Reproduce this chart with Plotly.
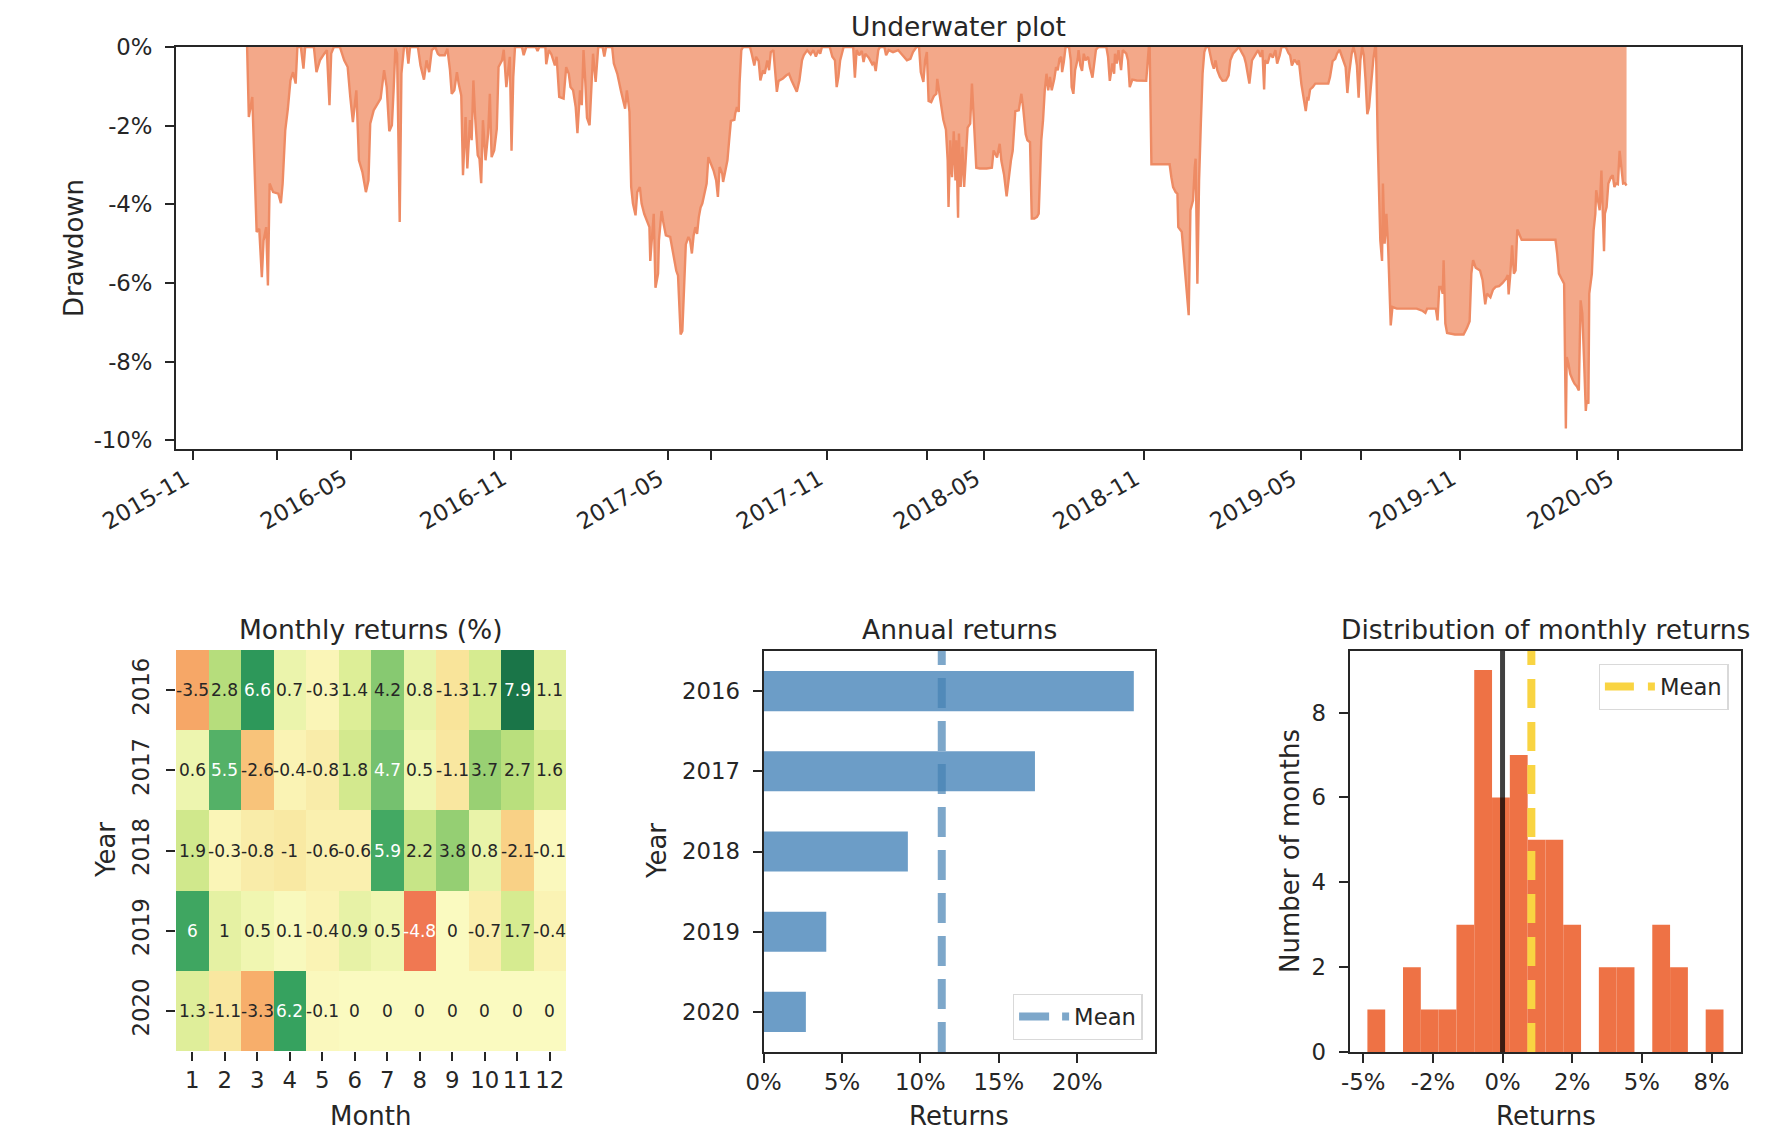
import plotly.graph_objects as go

W, H = 1784, 1148
FONT = "DejaVu Sans"
INK = "#262626"

# ---------------- data ----------------
# Underwater (drawdown, %): (date, drawdown %)
underwater_points = [
    ("2016-01-02", 0.00), ("2016-01-04", -1.78), ("2016-01-08", -1.27), ("2016-01-11", -3.05), ("2016-01-13", -4.70),
    ("2016-01-16", -4.62), ("2016-01-19", -5.85), ("2016-01-21", -4.92), ("2016-01-24", -4.58), ("2016-01-26", -6.06),
    ("2016-01-28", -3.47), ("2016-02-01", -3.69), ("2016-02-07", -3.73), ("2016-02-10", -3.97), ("2016-02-12", -3.47),
    ("2016-02-15", -2.12), ("2016-02-18", -1.57), ("2016-02-21", -0.85), ("2016-02-24", -0.64), ("2016-02-27", -0.93),
    ("2016-02-29", 0.00), ("2016-03-04", 0.00), ("2016-03-07", -0.55), ("2016-03-09", 0.00), ("2016-03-19", 0.00),
    ("2016-03-22", -0.64), ("2016-03-26", -0.34), ("2016-03-31", -0.17), ("2016-04-03", -0.08), ("2016-04-06", -1.48),
    ("2016-04-08", -0.17), ("2016-04-11", 0.00), ("2016-04-18", 0.00), ("2016-04-23", -0.34), ("2016-04-27", -0.51),
    ("2016-04-30", -1.27), ("2016-05-03", -1.91), ("2016-05-07", -1.10), ("2016-05-10", -2.88), ("2016-05-14", -3.18),
    ("2016-05-18", -3.69), ("2016-05-21", -3.39), ("2016-05-23", -1.95), ("2016-05-27", -1.61), ("2016-05-31", -1.44),
    ("2016-06-04", -1.31), ("2016-06-08", -0.59), ("2016-06-11", -1.02), ("2016-06-14", -2.14), ("2016-06-17", -1.99),
    ("2016-06-19", -1.10), ("2016-06-21", -0.04), ("2016-06-23", -0.17), ("2016-06-26", -4.45), ("2016-06-28", -0.68),
    ("2016-07-01", 0.00), ("2016-07-04", 0.00), ("2016-07-06", -0.42), ("2016-07-08", 0.00), ("2016-07-17", 0.00),
    ("2016-07-20", -0.47), ("2016-07-24", -0.83), ("2016-07-27", -0.34), ("2016-07-30", -0.64), ("2016-08-02", -0.08),
    ("2016-08-06", 0.00), ("2016-08-09", -0.17), ("2016-08-11", -0.21), ("2016-08-17", -0.21), ("2016-08-20", -0.04),
    ("2016-08-23", -0.59), ("2016-08-25", -1.19), ("2016-08-28", -1.10), ("2016-08-31", -0.64), ("2016-09-02", -0.93),
    ("2016-09-05", -1.23), ("2016-09-07", -3.26), ("2016-09-10", -1.78), ("2016-09-12", -3.09), ("2016-09-15", -1.86),
    ("2016-09-17", -2.37), ("2016-09-19", -0.85), ("2016-09-21", -1.78), ("2016-09-24", -2.75), ("2016-09-26", -2.84),
    ("2016-09-28", -3.46), ("2016-09-30", -1.86), ("2016-10-03", -2.88), ("2016-10-06", -2.20), ("2016-10-08", -1.19),
    ("2016-10-10", -2.80), ("2016-10-13", -2.63), ("2016-10-16", -2.08), ("2016-10-18", -0.51), ("2016-10-22", -0.34),
    ("2016-10-24", -0.07), ("2016-10-27", -1.02), ("2016-10-29", -0.68), ("2016-10-31", -0.25), ("2016-11-02", -2.64),
    ("2016-11-04", -0.76), ("2016-11-06", 0.00), ("2016-11-14", 0.00), ("2016-11-16", -0.21), ("2016-11-19", 0.00),
    ("2016-11-30", 0.00), ("2016-12-02", -0.10), ("2016-12-04", 0.00), ("2016-12-11", 0.00), ("2016-12-12", -0.44),
    ("2016-12-15", -0.08), ("2016-12-18", -0.19), ("2016-12-22", -0.47), ("2016-12-24", -0.25), ("2016-12-27", -1.27),
    ("2017-01-01", -1.31), ("2017-01-04", -0.51), ("2017-01-07", -0.68), ("2017-01-09", -1.02), ("2017-01-12", -1.10),
    ("2017-01-15", -1.53), ("2017-01-17", -2.19), ("2017-01-20", -1.10), ("2017-01-22", -1.48), ("2017-01-24", -0.08),
    ("2017-01-26", -0.85), ("2017-01-28", -1.80), ("2017-01-31", -1.99), ("2017-02-02", -0.93), ("2017-02-04", -0.17),
    ("2017-02-07", -0.89), ("2017-02-09", -0.17), ("2017-02-10", 0.00), ("2017-02-15", 0.00), ("2017-02-17", -0.24),
    ("2017-02-19", 0.00), ("2017-02-26", 0.00), ("2017-02-28", -0.42), ("2017-03-04", -0.68), ("2017-03-08", -1.10),
    ("2017-03-11", -1.40), ("2017-03-13", -1.57), ("2017-03-15", -1.10), ("2017-03-18", -1.65), ("2017-03-20", -3.56),
    ("2017-03-22", -3.98), ("2017-03-25", -4.28), ("2017-03-27", -3.69), ("2017-03-30", -3.56), ("2017-04-01", -3.98),
    ("2017-04-04", -4.24), ("2017-04-07", -4.41), ("2017-04-10", -4.58), ("2017-04-11", -5.44), ("2017-04-14", -4.41),
    ("2017-04-15", -4.24), ("2017-04-17", -6.12), ("2017-04-20", -5.76), ("2017-04-21", -4.92), ("2017-04-24", -4.17),
    ("2017-04-26", -4.45), ("2017-04-29", -4.79), ("2017-05-04", -4.83), ("2017-05-08", -5.38), ("2017-05-11", -5.69),
    ("2017-05-13", -5.81), ("2017-05-16", -7.31), ("2017-05-18", -7.22), ("2017-05-20", -6.27), ("2017-05-22", -5.02),
    ("2017-05-25", -4.83), ("2017-05-27", -4.92), ("2017-05-29", -5.25), ("2017-05-31", -4.79), ("2017-06-02", -4.58),
    ("2017-06-04", -4.75), ("2017-06-06", -4.32), ("2017-06-08", -4.08), ("2017-06-10", -3.98), ("2017-06-13", -3.66),
    ("2017-06-15", -3.47), ("2017-06-17", -2.80), ("2017-06-20", -2.98), ("2017-06-23", -3.14), ("2017-06-26", -3.39),
    ("2017-06-28", -3.81), ("2017-06-30", -3.05), ("2017-07-03", -3.22), ("2017-07-04", -3.43), ("2017-07-07", -3.05),
    ("2017-07-09", -2.88), ("2017-07-11", -2.37), ("2017-07-13", -1.88), ("2017-07-17", -1.85), ("2017-07-18", -1.69),
    ("2017-07-20", -1.53), ("2017-07-22", -1.65), ("2017-07-23", -0.93), ("2017-07-25", -0.08), ("2017-07-27", 0.00),
    ("2017-08-04", 0.00), ("2017-08-06", -0.17), ("2017-08-09", -0.47), ("2017-08-11", -0.25), ("2017-08-14", -0.36),
    ("2017-08-16", -0.85), ("2017-08-19", -0.59), ("2017-08-21", -0.68), ("2017-08-24", -0.34), ("2017-08-26", -0.59),
    ("2017-08-28", -0.13), ("2017-08-31", -0.08), ("2017-09-02", -0.68), ("2017-09-04", -1.14), ("2017-09-06", -0.86),
    ("2017-09-11", -0.80), ("2017-09-15", -0.72), ("2017-09-18", -0.68), ("2017-09-21", -0.85), ("2017-09-25", -1.02),
    ("2017-09-27", -1.14), ("2017-09-30", -0.85), ("2017-10-03", -0.34), ("2017-10-05", -0.21), ("2017-10-09", -0.08),
    ("2017-10-13", -0.19), ("2017-10-16", -0.08), ("2017-10-19", -0.24), ("2017-10-22", -0.08), ("2017-10-24", -0.17),
    ("2017-10-26", 0.00), ("2017-11-04", 0.00), ("2017-11-07", -0.25), ("2017-11-10", -0.34), ("2017-11-12", -1.02),
    ("2017-11-14", -0.76), ("2017-11-16", -0.34), ("2017-11-18", -0.17), ("2017-11-20", 0.00), ("2017-12-01", 0.00),
    ("2017-12-03", -0.78), ("2017-12-05", -0.08), ("2017-12-08", -0.21), ("2017-12-11", -0.10), ("2017-12-13", -0.38),
    ("2017-12-15", -0.17), ("2017-12-19", -0.27), ("2017-12-23", -0.44), ("2017-12-25", -0.38), ("2017-12-27", -0.61),
    ("2017-12-30", -0.08), ("2018-01-01", 0.00), ("2018-01-06", 0.00), ("2018-01-08", -0.21), ("2018-01-11", -0.08),
    ("2018-01-16", -0.13), ("2018-01-22", -0.08), ("2018-01-27", -0.21), ("2018-02-01", -0.34), ("2018-02-05", -0.30),
    ("2018-02-08", -0.13), ("2018-02-12", 0.00), ("2018-02-15", 0.00), ("2018-02-17", -0.64), ("2018-02-20", -0.89),
    ("2018-02-22", -0.34), ("2018-02-24", -0.13), ("2018-02-26", -1.37), ("2018-03-01", -1.40), ("2018-03-04", -1.25),
    ("2018-03-07", -1.19), ("2018-03-08", -0.81), ("2018-03-11", -1.29), ("2018-03-13", -1.61), ("2018-03-15", -1.85),
    ("2018-03-18", -2.10), ("2018-03-20", -2.88), ("2018-03-21", -4.07), ("2018-03-23", -2.37), ("2018-03-25", -3.31),
    ("2018-03-27", -2.14), ("2018-03-29", -3.39), ("2018-03-30", -2.37), ("2018-04-01", -4.34), ("2018-04-02", -2.20),
    ("2018-04-04", -3.56), ("2018-04-06", -2.54), ("2018-04-08", -3.56), ("2018-04-10", -2.80), ("2018-04-12", -2.05),
    ("2018-04-15", -1.95), ("2018-04-17", -0.93), ("2018-04-20", -2.20), ("2018-04-22", -3.07), ("2018-04-26", -3.09),
    ("2018-05-04", -3.09), ("2018-05-10", -3.07), ("2018-05-12", -2.63), ("2018-05-16", -2.81), ("2018-05-19", -2.46),
    ("2018-05-21", -2.90), ("2018-05-24", -3.24), ("2018-05-27", -3.80), ("2018-05-29", -3.39), ("2018-06-01", -2.88),
    ("2018-06-03", -2.64), ("2018-06-06", -1.63), ("2018-06-10", -1.61), ("2018-06-11", -1.48), ("2018-06-13", -1.19),
    ("2018-06-15", -1.53), ("2018-06-18", -2.22), ("2018-06-20", -2.37), ("2018-06-23", -2.42), ("2018-06-25", -4.36),
    ("2018-06-28", -4.36), ("2018-07-01", -4.32), ("2018-07-03", -4.24), ("2018-07-06", -2.37), ("2018-07-08", -1.86),
    ("2018-07-10", -1.10), ("2018-07-12", -0.68), ("2018-07-14", -1.10), ("2018-07-16", -0.76), ("2018-07-18", -1.10),
    ("2018-07-21", -0.81), ("2018-07-23", -0.51), ("2018-07-25", -0.59), ("2018-07-27", -0.30), ("2018-07-29", -0.25),
    ("2018-07-30", -0.64), ("2018-08-01", -0.38), ("2018-08-03", 0.00), ("2018-08-07", 0.00), ("2018-08-09", -0.34),
    ("2018-08-10", -1.02), ("2018-08-12", -1.19), ("2018-08-14", -0.59), ("2018-08-17", -0.30), ("2018-08-18", -0.08),
    ("2018-08-20", -0.47), ("2018-08-22", -0.61), ("2018-08-24", -0.17), ("2018-08-26", -0.34), ("2018-08-29", -0.25),
    ("2018-08-31", -0.51), ("2018-09-03", -0.78), ("2018-09-05", -0.34), ("2018-09-07", -0.07), ("2018-09-10", 0.00),
    ("2018-09-19", 0.00), ("2018-09-21", -0.25), ("2018-09-23", -0.86), ("2018-09-26", -0.42), ("2018-09-28", -0.68),
    ("2018-09-29", -0.17), ("2018-10-01", -0.42), ("2018-10-03", -0.08), ("2018-10-06", -0.59), ("2018-10-08", -0.08),
    ("2018-10-12", -0.17), ("2018-10-14", -0.34), ("2018-10-16", -1.02), ("2018-10-19", -0.83), ("2018-10-24", -0.85),
    ("2018-11-04", -0.86), ("2018-11-05", -0.51), ("2018-11-07", 0.00), ("2018-11-08", 0.00), ("2018-11-10", -2.98),
    ("2018-11-20", -2.98), ("2018-12-01", -2.98), ("2018-12-03", -3.31), ("2018-12-05", -3.56), ("2018-12-08", -3.69),
    ("2018-12-10", -3.73), ("2018-12-11", -4.58), ("2018-12-15", -4.70), ("2018-12-19", -5.76), ("2018-12-23", -6.82),
    ("2018-12-25", -4.15), ("2018-12-28", -3.90), ("2018-12-30", -3.05), ("2018-12-31", -2.84), ("2019-01-02", -6.02),
    ("2019-01-04", -3.39), ("2019-01-06", -1.95), ("2019-01-08", -0.68), ("2019-01-10", -0.13), ("2019-01-12", 0.00),
    ("2019-01-15", 0.00), ("2019-01-17", -0.25), ("2019-01-19", -0.42), ("2019-01-21", -0.55), ("2019-01-23", -0.34),
    ("2019-01-25", -0.59), ("2019-01-28", -0.76), ("2019-01-31", -0.86), ("2019-02-04", -0.85), ("2019-02-07", -0.72),
    ("2019-02-09", -0.34), ("2019-02-12", -0.17), ("2019-02-16", -0.08), ("2019-02-19", 0.00), ("2019-02-22", -0.13),
    ("2019-02-25", -0.25), ("2019-02-27", -0.42), ("2019-03-03", -0.93), ("2019-03-06", -0.34), ("2019-03-10", -0.21),
    ("2019-03-13", -0.08), ("2019-03-16", -0.25), ("2019-03-18", -0.08), ("2019-03-20", -1.08), ("2019-03-21", -0.34),
    ("2019-03-24", -0.42), ("2019-03-27", -0.17), ("2019-03-30", -0.27), ("2019-04-02", -0.08), ("2019-04-04", -0.42),
    ("2019-04-07", -0.21), ("2019-04-09", 0.00), ("2019-04-14", 0.00), ("2019-04-17", -0.15), ("2019-04-19", -0.21),
    ("2019-04-21", -0.47), ("2019-04-24", -0.32), ("2019-04-27", -0.42), ("2019-04-29", -0.34), ("2019-05-02", -0.95),
    ("2019-05-04", -1.20), ("2019-05-07", -1.63), ("2019-05-09", -1.27), ("2019-05-10", -1.36), ("2019-05-12", -1.08),
    ("2019-05-15", -1.02), ("2019-05-18", -0.93), ("2019-06-02", -0.93), ("2019-06-04", -0.76), ("2019-06-07", -0.36),
    ("2019-06-10", -0.30), ("2019-06-12", -0.17), ("2019-06-15", -0.07), ("2019-06-17", -0.21), ("2019-06-20", -0.42),
    ("2019-06-22", -0.51), ("2019-06-24", -1.17), ("2019-06-26", -0.68), ("2019-06-29", -0.17), ("2019-07-01", 0.00),
    ("2019-07-03", -0.17), ("2019-07-05", -0.47), ("2019-07-07", -1.29), ("2019-07-09", -0.34), ("2019-07-11", 0.00),
    ("2019-07-13", -0.21), ("2019-07-15", -0.85), ("2019-07-17", -1.71), ("2019-07-19", -1.53), ("2019-07-22", -0.68),
    ("2019-07-24", -0.30), ("2019-07-26", 0.00), ("2019-07-27", 0.00), ("2019-07-29", -2.37), ("2019-07-30", -3.47),
    ("2019-08-01", -4.92), ("2019-08-03", -5.44), ("2019-08-04", -3.47), ("2019-08-06", -5.00), ("2019-08-08", -4.24),
    ("2019-08-10", -5.08), ("2019-08-12", -6.61), ("2019-08-13", -7.08), ("2019-08-15", -6.61), ("2019-08-20", -6.65),
    ("2019-08-31", -6.65), ("2019-09-12", -6.65), ("2019-09-19", -6.71), ("2019-09-22", -6.76), ("2019-09-24", -6.65),
    ("2019-10-04", -6.65), ("2019-10-06", -6.95), ("2019-10-08", -6.10), ("2019-10-10", -6.10), ("2019-10-12", -6.27),
    ("2019-10-13", -5.42), ("2019-10-15", -7.03), ("2019-10-17", -7.27), ("2019-10-26", -7.31), ("2019-11-05", -7.31),
    ("2019-11-09", -7.14), ("2019-11-12", -6.97), ("2019-11-14", -5.76), ("2019-11-16", -5.42), ("2019-11-19", -5.61),
    ("2019-11-24", -5.68), ("2019-11-27", -5.93), ("2019-11-30", -6.54), ("2019-12-02", -6.27), ("2019-12-06", -6.36),
    ("2019-12-09", -6.17), ("2019-12-12", -6.10), ("2019-12-16", -6.08), ("2019-12-20", -6.00), ("2019-12-24", -5.89),
    ("2019-12-26", -5.80), ("2019-12-27", -6.29), ("2019-12-29", -5.76), ("2019-12-31", -5.04), ("2020-01-02", -5.76),
    ("2020-01-04", -5.68), ("2020-01-06", -4.64), ("2020-01-09", -4.83), ("2020-01-11", -4.90), ("2020-02-01", -4.90),
    ("2020-02-19", -4.90), ("2020-02-21", -5.25), ("2020-02-23", -5.76), ("2020-02-26", -5.89), ("2020-02-29", -6.02),
    ("2020-03-02", -9.70), ("2020-03-03", -7.88), ("2020-03-05", -8.05), ("2020-03-07", -8.31), ("2020-03-10", -8.47),
    ("2020-03-12", -8.56), ("2020-03-15", -8.64), ("2020-03-17", -8.73), ("2020-03-19", -6.44), ("2020-03-21", -6.78),
    ("2020-03-23", -7.97), ("2020-03-25", -9.25), ("2020-03-26", -8.98), ("2020-03-28", -9.07), ("2020-03-29", -6.27),
    ("2020-04-01", -5.76), ("2020-04-03", -4.66), ("2020-04-05", -4.24), ("2020-04-06", -3.64), ("2020-04-08", -3.94),
    ("2020-04-10", -4.15), ("2020-04-12", -3.14), ("2020-04-13", -3.90), ("2020-04-15", -5.19), ("2020-04-16", -4.24),
    ("2020-04-18", -4.07), ("2020-04-20", -3.47), ("2020-04-23", -3.31), ("2020-04-25", -3.26), ("2020-04-27", -3.56),
    ("2020-04-29", -3.47), ("2020-05-01", -3.49), ("2020-05-03", -2.64), ("2020-05-05", -3.05), ("2020-05-07", -3.47),
    ("2020-05-09", -3.46), ("2020-05-11", -3.52),
]
uw_dates = [d for d, _ in underwater_points]
uw_drawdown_pct = [v for _, v in underwater_points]

uw_tick_labels = ["2015-11", "2016-05", "2016-11", "2017-05", "2017-11",
                  "2018-05", "2018-11", "2019-05", "2019-11", "2020-05"]
uw_minor_tick_dates = ["2016-02-05", "2016-10-13", "2017-06-20", "2018-02-24", "2019-07-10", "2020-03-15"]
uw_y_ticks = [0, -2, -4, -6, -8, -10]

# Monthly returns (%) table
years = [2016, 2017, 2018, 2019, 2020]
months = list(range(1, 13))
monthly_2016 = [-3.5, 2.8, 6.6, 0.7, -0.3, 1.4, 4.2, 0.8, -1.3, 1.7, 7.9, 1.1]
monthly_2017 = [0.6, 5.5, -2.6, -0.4, -0.8, 1.8, 4.7, 0.5, -1.1, 3.7, 2.7, 1.6]
monthly_2018 = [1.9, -0.3, -0.8, -1.0, -0.6, -0.6, 5.9, 2.2, 3.8, 0.8, -2.1, -0.1]
monthly_2019 = [6.0, 1.0, 0.5, 0.1, -0.4, 0.9, 0.5, -4.8, 0.0, -0.7, 1.7, -0.4]
monthly_2020 = [1.3, -1.1, -3.3, 6.2, -0.1]  # Jan-May (rest of year shown as 0)

# Annual returns (%)
annual_returns = [23.6, 17.3, 9.2, 4.0, 2.7]
annual_x_ticks = [0, 5, 10, 15, 20]

# Distribution of monthly returns: 20 bins between the extremes of the monthly returns
hist_counts = [1, 0, 2, 1, 1, 3, 9, 6, 7, 5, 5, 3, 0, 2, 2, 0, 3, 2, 0, 1]
hist_min, hist_max = -4.85, 7.93
hist_x_ticks = [-5, -2.5, 0, 2.5, 5, 7.5]
hist_y_ticks = [0, 2, 4, 6, 8]

# ---------------- helpers ----------------
def fx(px):
    return px / W

def fy(py):
    return 1 - py / H

RDYLGN = [(165, 0, 38), (215, 48, 39), (244, 109, 67), (253, 174, 97), (254, 224, 139),
          (255, 255, 191), (217, 239, 139), (166, 217, 106), (102, 189, 99), (26, 152, 80), (0, 104, 55)]
# slightly softened rendering of the RdYlGn map (as it appears in the picture)
SOFT = 0.12
SOFT_TO = (215, 215, 200)
soft_cols = [tuple(round(c[k] * (1 - SOFT) + SOFT_TO[k] * SOFT) for k in range(3)) for c in RDYLGN]
colorscale = [[i / 10, "rgb(%d,%d,%d)" % c] for i, c in enumerate(soft_cols)]

def cmap(t):
    t = min(max(t, 0.0), 1.0) * 10
    i = min(int(t), 9)
    f = t - i
    a, b = RDYLGN[i], RDYLGN[i + 1]
    return [(a[k] + (b[k] - a[k]) * f) / 255 for k in range(3)]

def luminance(rgb):
    lin = [c / 12.92 if c <= 0.03928 else ((c + 0.055) / 1.055) ** 2.4 for c in rgb]
    return 0.2126 * lin[0] + 0.7152 * lin[1] + 0.0722 * lin[2]

tick_font = dict(family=FONT, size=22.8, color=INK)
axis_box = dict(showline=True, linecolor=INK, linewidth=1.8, mirror=True, ticks="outside",
                ticklen=9, tickwidth=1.8, tickcolor=INK, tickfont=tick_font,
                showgrid=False, zeroline=False, automargin=False)
YSTAND = 8

fig = go.Figure()

# ---------------- underwater ----------------
fig.add_trace(go.Scatter(
    x=uw_dates, y=uw_drawdown_pct, mode="lines", fill="tozeroy",
    fillcolor="rgb(243,168,137)", line=dict(color="rgb(238,139,100)", width=2.4),
    xaxis="x", yaxis="y", showlegend=False, hoverinfo="skip"))

# ---------------- heatmap ----------------
table = [monthly_2016, monthly_2017, monthly_2018, monthly_2019,
         monthly_2020 + [0.0] * (12 - len(monthly_2020))]
vrange = max(max(max(r) for r in table), -min(min(r) for r in table))
fig.add_trace(go.Heatmap(
    z=table, x=months, y=years, colorscale=colorscale, zmin=-vrange, zmax=vrange,
    showscale=False, xaxis="x2", yaxis="y2", hoverinfo="skip"))

annotations = []
for yi, yr in enumerate(years):
    for mi, m in enumerate(months):
        v = table[yi][mi]
        col = cmap((v + vrange) / (2 * vrange))
        tcol = "white" if luminance(col) <= 0.41 else INK
        annotations.append(dict(x=m, y=yr, xref="x2", yref="y2", text=format(v, ".2g"),
                                showarrow=False, font=dict(family=FONT, size=17, color=tcol)))

# ---------------- annual returns ----------------
fig.add_trace(go.Bar(
    x=annual_returns, y=years, orientation="h", width=0.5,
    marker=dict(color="rgb(108,157,199)", line_width=0),
    xaxis="x3", yaxis="y3", showlegend=False, hoverinfo="skip"))
ann_mean = sum(annual_returns) / len(annual_returns)
ann_line = dict(color="rgba(70,130,180,0.7)", width=8, dash="30px,13px")
fig.add_shape(type="line", x0=ann_mean, x1=ann_mean, y0=0, y1=1, xref="x3", yref="y3 domain",
              line=ann_line)
fig.add_trace(go.Scatter(x=[None], y=[None], mode="lines", line=ann_line, name="Mean",
                         xaxis="x3", yaxis="y3", legend="legend", hoverinfo="skip"))

# ---------------- distribution ----------------
nb = len(hist_counts)
bw = (hist_max - hist_min) / nb
centers = [hist_min + bw * (i + 0.5) for i in range(nb)]
fig.add_trace(go.Bar(
    x=centers, y=hist_counts, width=bw, marker=dict(color="rgb(238,114,69)", line_width=0),
    xaxis="x4", yaxis="y4", showlegend=False, hoverinfo="skip"))
all_monthly = monthly_2016 + monthly_2017 + monthly_2018 + monthly_2019 + monthly_2020
m_mean = sum(all_monthly) / len(all_monthly)
fig.add_shape(type="line", x0=0, x1=0, y0=0, y1=1, xref="x4", yref="y4 domain",
              line=dict(color="rgba(0,0,0,0.75)", width=5))
gold_line = dict(color="rgb(249,212,66)", width=8, dash="29px,14px")
fig.add_shape(type="line", x0=m_mean, x1=m_mean, y0=0, y1=1, xref="x4", yref="y4 domain",
              line=gold_line)
fig.add_trace(go.Scatter(x=[None], y=[None], mode="lines", line=gold_line, name="Mean",
                         xaxis="x4", yaxis="y4", legend="legend2", hoverinfo="skip"))

# ---------------- titles / labels ----------------
def label(text, x, y, size=26, angle=0):
    annotations.append(dict(text=text, x=fx(x), y=fy(y), xref="paper", yref="paper",
                            showarrow=False, textangle=angle, xanchor="center", yanchor="middle",
                            font=dict(family=FONT, size=size, color=INK)))

label("Underwater plot", 958.5, 26, 26.5)
label("Monthly returns (%)", 371, 629, 26.5)
label("Annual returns", 959, 629, 26.5)
label("Distribution of monthly returns", 1545.5, 629, 26.5)
label("Drawdown", 74, 248, angle=-90)
label("Year", 106, 850, angle=-90)
label("Month", 371, 1116)
label("Year", 657, 851, angle=-90)
label("Returns", 959, 1116)
label("Number of months", 1290, 851, angle=-90)
label("Returns", 1545.5, 1116)

legend_style = dict(bgcolor="white", bordercolor="#d9d9d9", borderwidth=1.3,
                    font=dict(family=FONT, size=22.7, color=INK), itemwidth=50)

fig.update_layout(
    template="none",
    width=W, height=H, autosize=False,
    margin=dict(l=0, r=0, t=0, b=0, pad=0, autoexpand=False),
    paper_bgcolor="white", plot_bgcolor="white",
    font=dict(family=FONT, color=INK),
    barmode="overlay",
    annotations=annotations,
    legend=dict(x=fx(1142.8), y=fy(1040), xanchor="right", yanchor="bottom", **legend_style),
    legend2=dict(x=fx(1728.6), y=fy(664), xanchor="right", yanchor="top", **legend_style),
    xaxis=dict(domain=[fx(176), fx(1741)], anchor="y", type="date",
               range=["2015-10-12", "2020-09-20"],
               tickmode="array", tickvals=[t + "-01" for t in uw_tick_labels], ticktext=uw_tick_labels,
               tickangle=-30, ticklabelshift=-8, ticklabelstandoff=-3,
               minor=dict(tickmode="array", tickvals=uw_minor_tick_dates, ticks="outside",
                          ticklen=9, tickwidth=1.8, tickcolor=INK, showgrid=False),
               **axis_box),
    yaxis=dict(domain=[fy(449), fy(47)], anchor="x", range=[-10.22, 0],
               tickmode="array", tickvals=uw_y_ticks, ticktext=["%d%%" % v for v in uw_y_ticks],
               ticklabelstandoff=YSTAND, **axis_box),
    xaxis2=dict(domain=[fx(176), fx(566)], anchor="y2", range=[0.5, 12.5],
                tickmode="array", tickvals=months, ticktext=[str(m) for m in months],
                showline=False, ticks="outside", ticklen=9, tickwidth=1.8, tickcolor=INK,
                tickfont=tick_font, showgrid=False, zeroline=False, automargin=False),
    yaxis2=dict(domain=[fy(1051), fy(650)], anchor="x2", range=[years[-1] + 0.5, years[0] - 0.5],
                tickmode="array", tickvals=years, ticktext=[str(y) for y in years], tickangle=-90,
                showline=False, ticks="outside", ticklen=9, tickwidth=1.8, tickcolor=INK,
                tickfont=tick_font, showgrid=False, zeroline=False, automargin=False,
                ticklabelstandoff=YSTAND),
    xaxis3=dict(domain=[fx(763.5), fx(1155)], anchor="y3", range=[0, 24.95],
                tickmode="array", tickvals=annual_x_ticks, ticktext=["%d%%" % v for v in annual_x_ticks],
                **axis_box),
    yaxis3=dict(domain=[fy(1052), fy(651)], anchor="x3", range=[years[-1] + 0.5, years[0] - 0.5],
                tickmode="array", tickvals=years, ticktext=[str(y) for y in years],
                ticklabelstandoff=YSTAND, **axis_box),
    xaxis4=dict(domain=[fx(1349.6), fx(1741.3)], anchor="y4",
                range=[hist_min - bw, hist_max + bw],
                tickmode="array", tickvals=hist_x_ticks, ticktext=["%.0f%%" % v for v in hist_x_ticks],
                **axis_box),
    yaxis4=dict(domain=[fy(1052), fy(651)], anchor="x4", range=[0, max(hist_counts) * 1.05],
                tickmode="array", tickvals=hist_y_ticks, ticktext=[str(v) for v in hist_y_ticks],
                ticklabelstandoff=YSTAND, **axis_box),
)

# the page's default body margin would shift the figure by 8px; remove it
fig.write_html("out.html", config={"displayModeBar": False},
               post_script="document.body.style.margin='0px';")
